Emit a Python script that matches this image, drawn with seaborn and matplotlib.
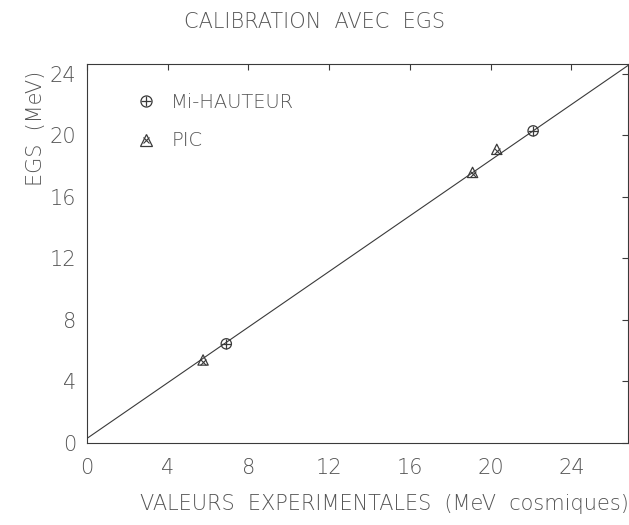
import matplotlib
matplotlib.use("Agg")
import matplotlib.pyplot as plt
from matplotlib.legend_handler import HandlerTuple
from matplotlib.lines import Line2D
import seaborn as sns
import pandas as pd
import numpy as np

# Calibration points: experimental (cosmic MeV) vs EGS simulation (MeV)
mi_hauteur_x = [6.9, 22.1]
mi_hauteur_y = [6.45, 20.3]
pic_x = [5.75, 19.1, 20.3]
pic_y = [5.4, 17.6, 19.1]

# Linear calibration fit
fit_intercept = 0.3
fit_slope = 0.905

x_ticks = [0, 4, 8, 12, 16, 20, 24]
y_ticks = [0, 4, 8, 12, 16, 20, 24]

df = pd.DataFrame({
    "exp": mi_hauteur_x + pic_x,
    "egs": mi_hauteur_y + pic_y,
    "serie": ["Mi-HAUTEUR"] * len(mi_hauteur_x) + ["PIC"] * len(pic_x),
})

sns.set_theme(style="white")
plt.rcParams["font.family"] = ["DejaVu Sans"]
plt.rcParams["font.weight"] = "light"

ink = "#3a3a3a"
txt = "#555555"

fig = plt.figure(figsize=(6.29, 5.25), dpi=100)
ax = fig.add_axes([87 / 629, 82 / 525, 541 / 629, 379 / 525])

xmax, ymax = 26.8, 24.65
xs = np.array([0.0, xmax])
sns.lineplot(x=xs, y=fit_intercept + fit_slope * xs, ax=ax, color=ink, lw=0.8)

sns.scatterplot(data=df, x="exp", y="egs", style="serie",
                markers={"Mi-HAUTEUR": "o", "PIC": "^"},
                s=55, facecolor="none", edgecolor=ink, linewidth=0.9,
                ax=ax, legend=False)
sub_mi = df[df.serie == "Mi-HAUTEUR"]
sub_pic = df[df.serie == "PIC"]
sns.scatterplot(x=sub_mi.exp, y=sub_mi.egs, marker="+", s=45, color=ink,
                linewidth=0.9, ax=ax, legend=False)
sns.scatterplot(x=sub_pic.exp, y=sub_pic.egs - 0.12, marker="x", s=18, color=ink,
                linewidth=0.8, ax=ax, legend=False)

ax.set_xlim(0, xmax)
ax.set_ylim(0, ymax)
ax.set_xticks(x_ticks)
ax.set_yticks(y_ticks)
ax.set_xticklabels([str(t) for t in x_ticks], fontweight="light")
ax.set_yticklabels([str(t) for t in y_ticks], fontweight="light")
ax.tick_params(direction="in", length=4, width=0.8, colors=ink,
               labelcolor=txt, labelsize=15, top=True, right=True)
ax.tick_params(axis="x", pad=11)
ax.tick_params(axis="y", pad=8)
for sp in ax.spines.values():
    sp.set_color(ink)
    sp.set_linewidth(0.8)

ax.set_xlabel("VALEURS  EXPERIMENTALES  (MeV  cosmiques)", fontsize=15,
              color=txt, labelpad=11, x=0.55, fontweight="light")
ax.set_ylabel("EGS  (MeV)", fontsize=15, color=txt, labelpad=2, y=0.83,
              fontweight="light")
fig.suptitle("CALIBRATION  AVEC  EGS", fontsize=15, color=txt, x=0.5, y=0.978,
             fontweight="light")

h_mi = (Line2D([], [], marker="o", ls="none", mfc="none", mec=ink, ms=8, mew=0.9),
        Line2D([], [], marker="+", ls="none", color=ink, ms=7, mew=0.9))
h_pic = (Line2D([], [], marker="^", ls="none", mfc="none", mec=ink, ms=8, mew=0.9),
         Line2D([], [], marker="x", ls="none", color=ink, ms=4, mew=0.8))
leg = ax.legend([h_mi, h_pic], ["Mi-HAUTEUR", "PIC"],
                handler_map={tuple: HandlerTuple(ndivide=1)},
                loc="upper left", bbox_to_anchor=(0.055, 0.97), frameon=False,
                labelspacing=1.0, handletextpad=0.7, handlelength=1.2,
                prop={"weight": "light", "size": 14})
for t in leg.get_texts():
    t.set_color(txt)

fig.savefig("out.png", dpi=100, facecolor="white")
